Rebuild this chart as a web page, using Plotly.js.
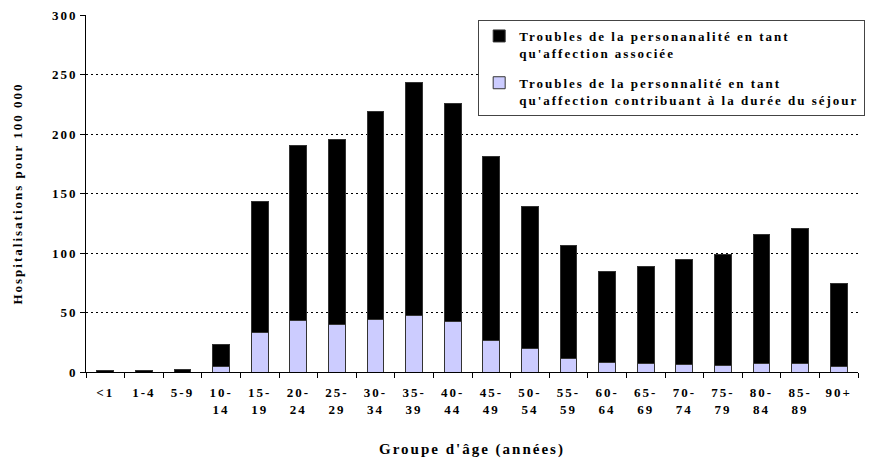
<!DOCTYPE html>
<html><head><meta charset="utf-8">
<script src="https://cdn.plot.ly/plotly-3.0.1.min.js"></script>
<style>
html,body{margin:0;padding:0;background:#fff;}
text{letter-spacing:2px;}
</style></head>
<body><div id="chart" style="width:877px;height:460px;"></div>
<script>
const categories = ["<1","1-4","5-9","10-<br>14","15-<br>19","20-<br>24","25-<br>29","30-<br>34","35-<br>39","40-<br>44","45-<br>49","50-<br>54","55-<br>59","60-<br>64","65-<br>69","70-<br>74","75-<br>79","80-<br>84","85-<br>89","90+"];
const totals = [1.4,1.4,2.2,23.3,143.3,190.4,195.1,219,243,225.4,181.1,138.8,106.3,84.1,88.6,94.5,98.7,115.5,120.5,74.3];
const contrib = [0,0,0,4.8,33.4,43.5,40.1,44.3,47.7,42.6,26.6,19.6,11.5,8.4,7.3,6.4,5.6,7.3,7.3,4.8];
const associee = totals.map((t,i)=>+(t-contrib[i]).toFixed(1));
const seriesNames = ["Troubles de la personanalité en tant<br>qu'affection associée","Troubles de la personnalité en tant<br>qu'affection contribuant à la durée du séjour"];

const font = "Liberation Serif, Times New Roman, serif";
const data = [
  {type:"bar", x:categories, y:contrib, name:seriesNames[1], legendgroup:"b", legendrank:2,
   marker:{color:"#CCCCFF", line:{color:"#333333", width:1}}},
  {type:"bar", x:categories, y:associee, name:seriesNames[0], legendgroup:"a", legendrank:1,
   marker:{color:"#000000", line:{color:"#333333", width:1}}}
];
const layout = {
  width:877, height:460,
  margin:{l:86, r:19, t:15, b:88},
  barmode:"stack", bargap:0.56,
  paper_bgcolor:"#fff", plot_bgcolor:"#fff",
  font:{family:font, size:13, color:"#000", weight:"bold"},
  showlegend:true,
  legend:{x:0.508, y:0.986, xanchor:"left", yanchor:"top", traceorder:"grouped",
    valign:"top", bgcolor:"#fff", bordercolor:"#444", borderwidth:1,
    font:{family:font, size:13, color:"#000", weight:"bold"}, tracegroupgap:10},
  xaxis:{type:"category", showline:true, linecolor:"#000", linewidth:1,
    ticks:"outside", tickson:"boundaries", ticklen:5, tickcolor:"#000",
    ticklabelstandoff:8,
    showgrid:false, tickfont:{family:font,size:13,weight:"bold"},
    title:{text:"Groupe d'âge (années)", standoff:27, font:{family:font,size:15,weight:"bold"}}},
  yaxis:{range:[0,300], dtick:50, showline:true, linecolor:"#000", linewidth:1,
    ticks:"outside", ticklen:5, tickcolor:"#000",
    showgrid:true, gridcolor:"#000", gridwidth:1, griddash:"2px,3px", zeroline:false,
    tickfont:{family:font,size:13,weight:"bold"},
    title:{text:"Hospitalisations pour 100 000", standoff:26, font:{family:font,size:13,weight:"bold"}}}
};
Plotly.newPlot("chart", data, layout, {displayModeBar:false, staticPlot:true});
</script></body></html>
